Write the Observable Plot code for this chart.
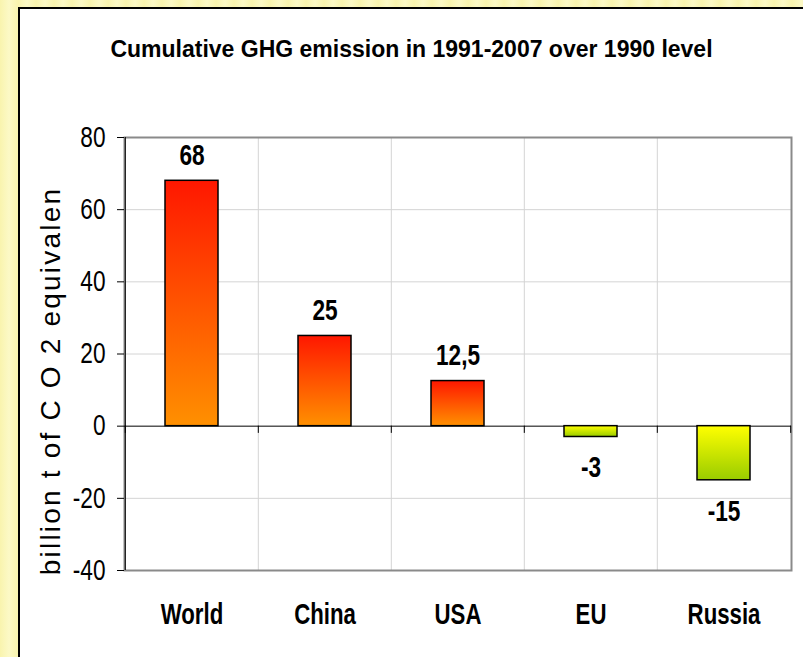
<!DOCTYPE html>
<html>
<head>
<meta charset="utf-8">
<script src="https://cdn.jsdelivr.net/npm/d3@7"></script>
<script src="https://cdn.jsdelivr.net/npm/@observablehq/plot@0.6"></script>
<style>
  html, body { margin: 0; padding: 0; width: 803px; height: 657px; overflow: hidden; }
  body { background: repeating-linear-gradient(90deg, #f9f4ae 0px, #fcf9c6 9px, #f9f4ae 18px); position: relative; }
  #panel { position: absolute; left: 18px; top: 7px; width: 785px; height: 650px; background: #fff;
           border-left: 2px solid #000; border-top: 2px solid #000; box-sizing: border-box; }
  #title { position: absolute; left: 0; width: 783px; top: 29px; text-align: center;
           font-family: "Liberation Sans", Arial, sans-serif; font-weight: bold; font-size: 23px; line-height: 1; }
  #chart { position: absolute; left: 0; top: 91px; }
</style>
</head>
<body>
<div id="panel">
  <div id="title">Cumulative GHG emission in 1991-2007 over 1990 level</div>
  <div id="chart"></div>
</div>
<script>
const categories = ["World", "China", "USA", "EU", "Russia"];
const values = [68, 25, 12.5, -3, -15];
const valueLabels = ["68", "25", "12,5", "-3", "-15"];
const yTicks = [-40, -20, 0, 20, 40, 60, 80];
const yGrid = [-20, 20, 40, 60];
const yLabel = "billion t of C O 2 equivalen";

const data = categories.map((c, i) => ({category: c, value: values[i], label: valueLabels[i]}));
const pos = data.filter(d => d.value >= 0);
const neg = data.filter(d => d.value < 0);

const W = 783, H = 557, ML = 104, MR = 12, MT = 37, MB = 87;
const step = (W - ML - MR) / categories.length;
const font = "'Liberation Sans', Arial, sans-serif";

const gradients = () => {
  const defs = d3.create("svg:defs");
  const g1 = defs.append("linearGradient").attr("id", "gpos").attr("x1", 0).attr("y1", 0).attr("x2", 0).attr("y2", 1);
  g1.append("stop").attr("offset", "0%").attr("stop-color", "#ff1700");
  g1.append("stop").attr("offset", "100%").attr("stop-color", "#ff9000");
  const g2 = defs.append("linearGradient").attr("id", "gneg").attr("x1", 0).attr("y1", 0).attr("x2", 0).attr("y2", 1);
  g2.append("stop").attr("offset", "0%").attr("stop-color", "#ffff00");
  g2.append("stop").attr("offset", "100%").attr("stop-color", "#99cc00");
  return defs.node();
};

const chart = Plot.plot({
  width: W, height: H,
  marginLeft: ML, marginRight: MR, marginTop: MT, marginBottom: MB,
  style: {fontFamily: font, background: "transparent", color: "#000"},
  x: {domain: categories, paddingInner: 0.6, paddingOuter: 0.3},
  y: {domain: [-40, 80]},
  marks: [
    gradients,
    Plot.ruleY(yGrid, {stroke: "#d4d4d4", strokeWidth: 1}),
    Plot.ruleX(categories, {x: d => d, dx: -step / 2, stroke: "#d4d4d4", strokeWidth: 1}),
    Plot.frame({stroke: "#8a8a8a", strokeWidth: 2}),
    Plot.ruleX([categories[0]], {x: d => d, dx: -step / 2, stroke: "#000", strokeWidth: 1}),
    Plot.ruleY([0], {stroke: "#000", strokeWidth: 1}),
    Plot.ruleX(categories, {x: d => d, dx: -step / 2, y1: 0, y2: -2, stroke: "#000", strokeWidth: 1}),
    Plot.ruleX([categories[categories.length - 1]], {x: d => d, dx: step / 2, y1: 0, y2: -2, stroke: "#000", strokeWidth: 1}),
    Plot.barY(pos, {x: "category", y: "value", fill: "url(#gpos)", stroke: "#000", strokeWidth: 1.5}),
    Plot.barY(neg, {x: "category", y: "value", fill: "url(#gneg)", stroke: "#000", strokeWidth: 1.5}),
    Plot.text(pos, {x: "category", y: "value", text: "label", dy: -25, fontSize: 29, fontWeight: "bold", fill: "#000"}),
    Plot.text(neg, {x: "category", y: "value", text: "label", dy: 31, fontSize: 29, fontWeight: "bold", fill: "#000"}),
    Plot.axisY(yTicks, {tickSize: 7, tickPadding: 12, fontSize: 29, tickFormat: d => String(d), label: null}),
    Plot.axisX({tickSize: 0, tickPadding: 32, fontSize: 30, fontWeight: "bold", label: null}),
    Plot.text([yLabel], {frameAnchor: "left", textAnchor: "middle", rotate: -90, dx: -73, dy: 27, fontSize: 28,
      fill: "#000"})
  ]
});
document.getElementById("chart").appendChild(chart);

// Emulate the condensed (narrow) face of the original with horizontal glyph compression,
// and the spaced-out axis title.
d3.select(chart).selectAll("text").each(function () {
  const t = this.textContent;
  if (t === yLabel) { this.style.letterSpacing = "2.2px"; return; }
  const len = this.getComputedTextLength();
  if (!(len > 0)) return;
  const factor = categories.includes(t) ? 0.74 : 0.78;
  this.setAttribute("textLength", (len * factor).toFixed(1));
  this.setAttribute("lengthAdjust", "spacingAndGlyphs");
});
</script>
</body>
</html>
